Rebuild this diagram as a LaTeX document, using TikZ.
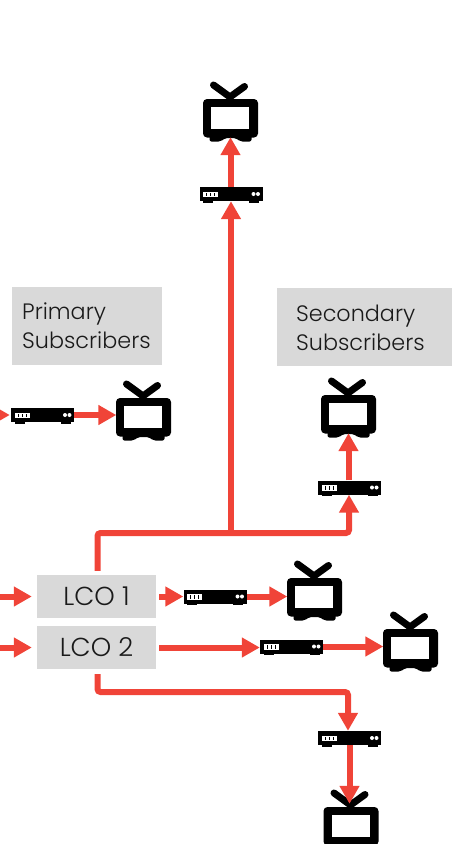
\documentclass[tikz,border=0pt]{standalone}
\usepackage{fontspec}
\setmainfont{Poppins Light}
\usetikzlibrary{arrows.meta}
\definecolor{arrowred}{HTML}{F04438}
\definecolor{boxgray}{HTML}{D9D9D9}
\definecolor{inktext}{HTML}{1A1A1A}
\tikzset{
  x=1pt,y=-1pt,
  link/.style={draw=arrowred,line width=6pt,rounded corners=3pt,-{Triangle[length=18pt,width=19pt]}},
  lcobox/.style={fill=boxgray,minimum width=119pt,minimum height=43pt,inner sep=0pt,text=inktext,font=\fontsize{26}{30}\selectfont},
  groupbox/.style={fill=boxgray,inner sep=0pt},
  grouplabel/.style={anchor=west,inner sep=0pt,align=left,text=inktext,font=\fontsize{22.3}{29}\selectfont},
  devstb/.style={minimum width=63pt,minimum height=14pt,inner sep=0pt},
  devtv/.style={minimum width=54pt,minimum height=38pt,inner sep=0pt},
}
\newcommand{\tvset}[2]{%
  \node[devtv] (#1) at (#2) {};
  \begin{scope}[shift={(#1.center)}]
    \draw[black,line width=7pt,line cap=round,line join=round] (-17,-33) -- (-0.5,-21) -- (14,-31.5);
    \fill[black,rounded corners=2pt] (-21,15) -- (-21,23.5) -- (-10,23.5) -- (-5,20) -- (5,20) -- (10,23.5) -- (21,23.5) -- (21,15) -- cycle;
    \fill[black,rounded corners=4pt] (-27.5,-19) rectangle (27.5,19.5);
    \fill[white] (-19.5,-11) rectangle (18.5,11);
  \end{scope}}
\newcommand{\stbset}[2]{%
  \node[devstb] (#1) at (#2) {};
  \begin{scope}[shift={(#1.center)}]
    \fill[black] (-31.5,-7) rectangle (31.5,7);
    \fill[black] (-28,6) rectangle (-18,8.5);
    \fill[black] (18,6) rectangle (28,8.5);
    \fill[white] (-28,-2.5) rectangle (-13,3);
    \foreach \q in {-25,-21,-17} \fill[black] (\q,-1.5) rectangle (\q+1.2,2);
    \fill[white] (22.5,0) circle (2);
    \fill[white] (27,0) circle (2);
  \end{scope}}
\begin{document}
\begin{tikzpicture}
\useasboundingbox (0,0) rectangle (452,844);
\node[groupbox,minimum width=150pt,minimum height=78pt] (prim) at (87,326) {};
\node[grouplabel] (primt) at (22,325.5) {Primary\\Subscribers};
\node[groupbox,minimum width=175pt,minimum height=78pt] (sec) at (364.5,327) {};
\node[grouplabel] (sect) at (296,327.5) {Secondary\\Subscribers};
\node[lcobox] (lco1) at (96.5,596.5) {\raisebox{-1.5pt}{LCO 1}};
\node[lcobox] (lco2) at (96.5,647.5) {\raisebox{-1.5pt}{LCO 2}};
\tvset{tvtop}{230.5,118}
\tvset{tvprim}{143.5,417}
\tvset{tvsec}{348.5,414}
\tvset{tvone}{314.5,597}
\tvset{tvtwo}{410.5,648}
\tvset{tvbot}{351,826}
\stbset{stbtop}{231,194}
\stbset{stbprim}{42.5,415}
\stbset{stbsec}{349.5,487.5}
\stbset{stbone}{215,596.5}
\stbset{stbtwo}{291.5,646.5}
\stbset{stbbot}{349.5,738}
\coordinate (inprim) at (-20,415);
\coordinate (inone) at (0,596.5);
\coordinate (intwo) at (0,647.5);
\coordinate (busa) at (97.5,533);
\coordinate (busb) at (231,533);
\coordinate (busc) at (349,533);
\coordinate (lowa) at (97.5,692);
\coordinate (lowb) at (348,692);
% connectors
\draw[link] (inprim) -- ([xshift=-1pt]stbprim.west);
\draw[link] (stbprim.east) -- (tvprim.west|-stbprim.east);
\draw[link] (inone) -- ([xshift=-5pt]lco1.west);
\draw[link] (intwo) -- ([xshift=-5pt]lco2.west);
\draw[link,shorten <=3pt] (lco1.east) -- (stbone.west);
\draw[link] (stbone.east) -- (tvone.west|-stbone.east);
\draw[link,shorten <=3pt] (lco2.east) -- (lco2.east-|stbtwo.west);
\draw[link] (stbtwo.east) -- (tvtwo.west|-stbtwo.east);
\draw[link] (busb) -- (busb|-stbtop.south);
\draw[link] (stbtop.north-|tvtop) -- (tvtop.south);
\draw[link] ([yshift=4pt]lco1.north-|busa) -- (busa) -- (busc) -- (stbsec.south-|busc);
\draw[link] (stbsec.north-|tvsec) -- (tvsec.south);
\draw[link] ([yshift=-5pt]lco2.south-|lowa) -- (lowa) -- (lowb) -- (lowb|-stbbot.north);
\draw[link] (stbbot.south) -- ([yshift=3pt]tvbot.north-|stbbot);
\end{tikzpicture}
\end{document}
